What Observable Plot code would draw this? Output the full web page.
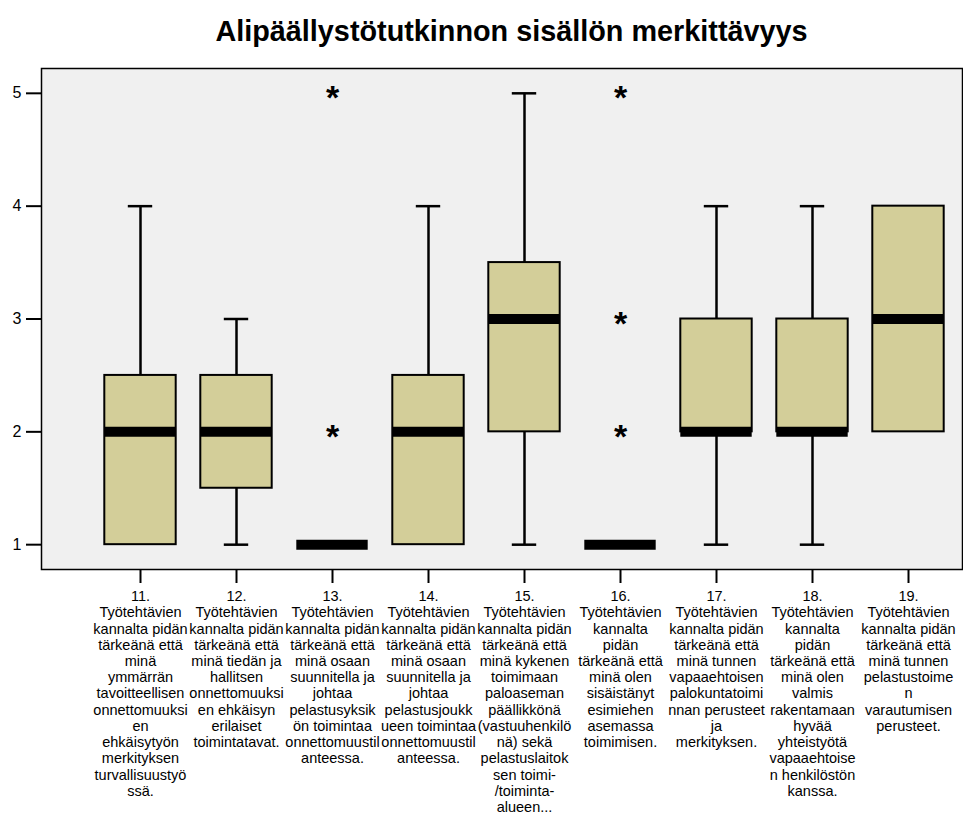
<!DOCTYPE html>
<html><head><meta charset="utf-8">
<script src="https://cdn.jsdelivr.net/npm/d3@7"></script>
<script src="https://cdn.jsdelivr.net/npm/@observablehq/plot@0.6"></script>
<style>
body{margin:0;background:#fff;font-family:"Liberation Sans",Arial,sans-serif;}
#title{height:58px;box-sizing:border-box;padding-top:17px;padding-left:60px;text-align:center;font-weight:bold;font-size:28.8px;line-height:28px;color:#000;white-space:nowrap;}
</style></head><body>
<div id="title">Alipäällystötutkinnon sisällön merkittävyys</div>
<div id="chart"></div>
<script>
const categories = ["11","12","13","14","15","16","17","18","19"];
const labels = [
  "11.\nTyötehtävien\nkannalta pidän\ntärkeänä että\nminä\nymmärrän\ntavoitteellisen\nonnettomuuksi\nen\nehkäisytyön\nmerkityksen\nturvallisuustyö\nssä.",
  "12.\nTyötehtävien\nkannalta pidän\ntärkeänä että\nminä tiedän ja\nhallitsen\nonnettomuuksi\nen ehkäisyn\nerilaiset\ntoimintatavat.",
  "13.\nTyötehtävien\nkannalta pidän\ntärkeänä että\nminä osaan\nsuunnitella ja\njohtaa\npelastusyksik\nön toimintaa\nonnettomuustil\nanteessa.",
  "14.\nTyötehtävien\nkannalta pidän\ntärkeänä että\nminä osaan\nsuunnitella ja\njohtaa\npelastusjoukk\nueen toimintaa\nonnettomuustil\nanteessa.",
  "15.\nTyötehtävien\nkannalta pidän\ntärkeänä että\nminä kykenen\ntoimimaan\npaloaseman\npäällikkönä\n(vastuuhenkilö\nnä) sekä\npelastuslaitok\nsen toimi-\n/toiminta-\nalueen...",
  "16.\nTyötehtävien\nkannalta\npidän\ntärkeänä että\nminä olen\nsisäistänyt\nesimiehen\nasemassa\ntoimimisen.",
  "17.\nTyötehtävien\nkannalta pidän\ntärkeänä että\nminä tunnen\nvapaaehtoisen\npalokuntatoimi\nnnan perusteet\nja\nmerkityksen.",
  "18.\nTyötehtävien\nkannalta\npidän\ntärkeänä että\nminä olen\nvalmis\nrakentamaan\nhyvää\nyhteistyötä\nvapaaehtoise\nn henkilöstön\nkanssa.",
  "19.\nTyötehtävien\nkannalta pidän\ntärkeänä että\nminä tunnen\npelastustoime\nn\nvarautumisen\nperusteet."
];
const whiskerLow  = [1, 1,   1, 1,   1,   1, 1, 1, 2];
const q1          = [1, 1.5, 1, 1,   2,   1, 2, 2, 2];
const median      = [2, 2,   1, 2,   3,   1, 2, 2, 3];
const q3          = [2.5, 2.5, 1, 2.5, 3.5, 1, 3, 3, 4];
const whiskerHigh = [4, 3,   1, 4,   5,   1, 4, 4, 4];
const outlierCats   = ["13","13","16","16","16"];
const outlierValues = [2, 5, 2, 3, 5];
const yTicks = [1, 2, 3, 4, 5];

const boxes = categories.map((c,i)=>({cat:c, low:whiskerLow[i], q1:q1[i], med:median[i], q3:q3[i], high:whiskerHigh[i]}));
const outliers = outlierCats.map((c,i)=>({cat:c, value:outlierValues[i]}));
const labelOf = new Map(categories.map((c,i)=>[c, labels[i]]));

const chart = Plot.plot({
  width: 963, height: 759,
  marginTop: 10, marginBottom: 248, marginLeft: 41, marginRight: 1,
  style: {fontFamily: "'Liberation Sans', Arial, sans-serif", fontSize: "14.5px", background: "white", color: "black"},
  x: {domain: categories, range: [89.7, 959.1], padding: 0},
  y: {domain: [0.78, 5.22]},
  marks: [
    Plot.frame({fill: "#f0f0f0"}),
    Plot.ruleX(boxes, {x: "cat", y1: "low", y2: "q1", stroke: "black", strokeWidth: 2.5}),
    Plot.ruleX(boxes, {x: "cat", y1: "q3", y2: "high", stroke: "black", strokeWidth: 2.5}),
    Plot.tickY(boxes.filter(d => d.low < d.q1), {x: "cat", y: "low", insetLeft: 35.8, insetRight: 35.8, stroke: "black", strokeWidth: 2.5}),
    Plot.tickY(boxes.filter(d => d.high > d.q3), {x: "cat", y: "high", insetLeft: 35.8, insetRight: 35.8, stroke: "black", strokeWidth: 2.5}),
    Plot.barY(boxes.filter(d => d.q3 > d.q1), {x: "cat", y1: "q1", y2: "q3", insetLeft: 12.3, insetRight: 12.3, fill: "#d3ce99", stroke: "black", strokeWidth: 2}),
    Plot.tickY(boxes, {x: "cat", y: "med", insetLeft: 12.3, insetRight: 12.3, stroke: "black", strokeWidth: 10}),
    Plot.text(outliers, {x: "cat", y: "value", text: () => "*", fontSize: 34, fontWeight: "bold", dy: 5, fill: "black"}),
    Plot.axisY({ticks: yTicks, tickSize: 15, tickPadding: 5, strokeWidth: 2, fontSize: 16, label: null, tickFormat: d => String(d)}),
    Plot.axisX({tickSize: 14, tickPadding: 6, strokeWidth: 2, fontSize: 14.5, lineHeight: 1.12, lineAnchor: "top", label: null, tickFormat: d => labelOf.get(d)}),
    Plot.frame({stroke: "black", strokeWidth: 1.5})
  ]
});
document.getElementById("chart").appendChild(chart);
</script>
</body></html>
